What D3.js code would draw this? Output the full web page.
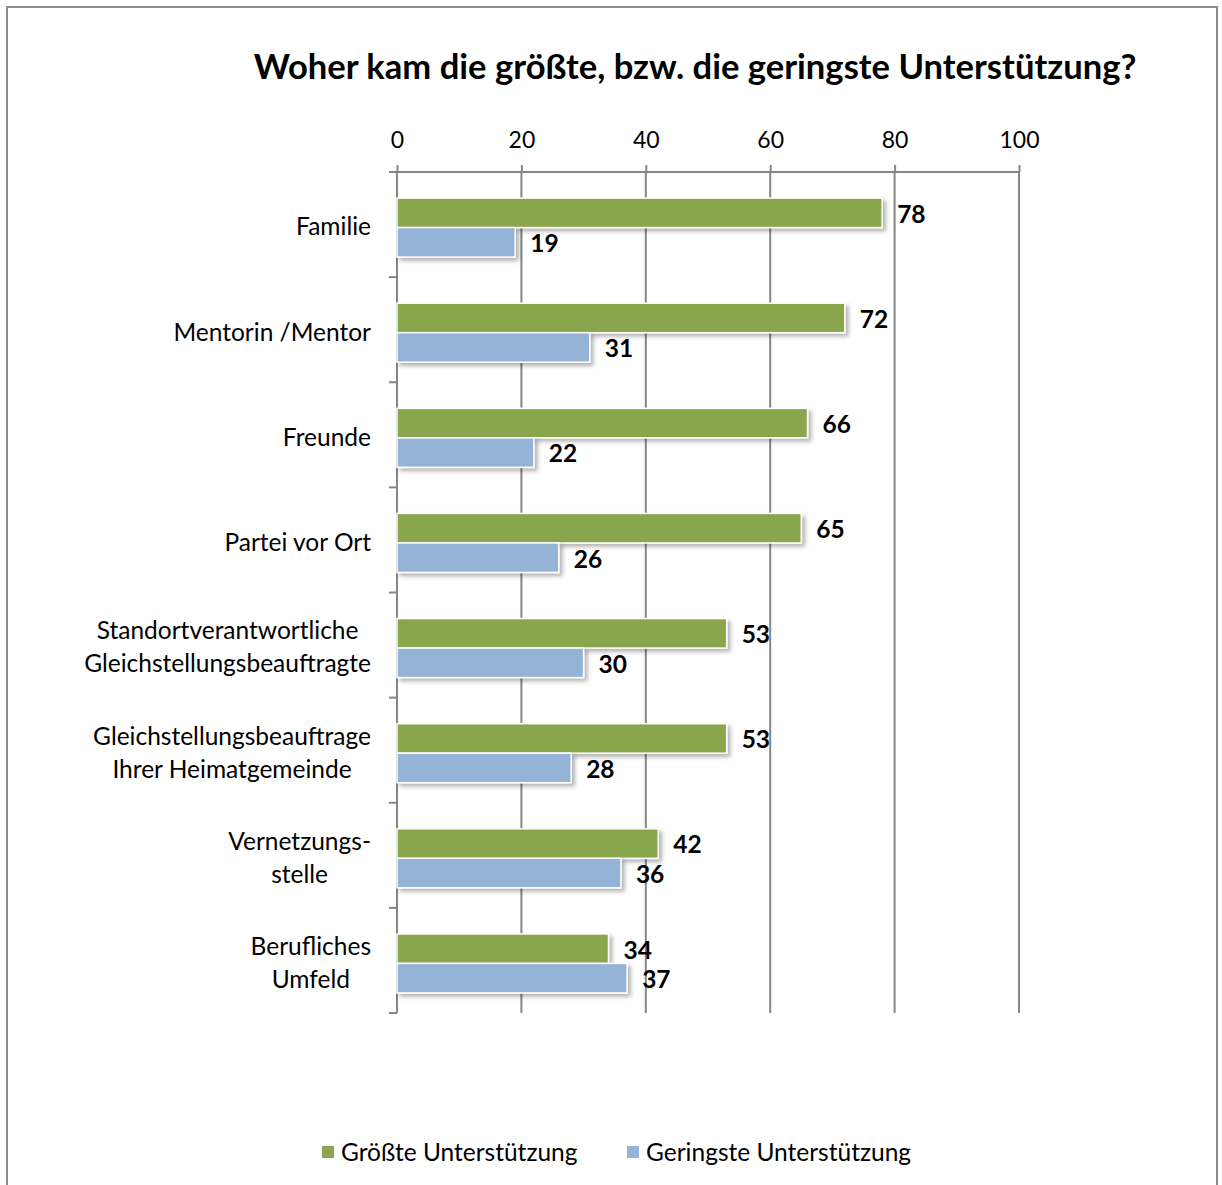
<!DOCTYPE html>
<html>
<head>
<meta charset="utf-8">
<script src="https://cdn.jsdelivr.net/npm/d3@7"></script>
<style>
  html, body { margin: 0; padding: 0; background: #fff; }
  svg { display: block; font-family: Lato, "Open Sans", sans-serif; }
</style>
</head>
<body>
<svg id="chart" width="1222" height="1185"></svg>
<script>
// Sources of support, share of respondents (%)
const categories = [
  ["Familie"],
  ["Mentorin /Mentor"],
  ["Freunde"],
  ["Partei vor Ort"],
  ["Standortverantwortliche", "Gleichstellungsbeauftragte"],
  ["Gleichstellungsbeauftrage", "Ihrer Heimatgemeinde"],
  ["Vernetzungs-", "stelle"],
  ["Berufliches", "Umfeld"]
];
const groessteValues = [78, 72, 66, 65, 53, 53, 42, 34];
const geringsteValues = [19, 31, 22, 26, 30, 28, 36, 37];
const seriesNames = ["Größte Unterstützung", "Geringste Unterstützung"];
const seriesColors = ["#8aa64e", "#95b3d7"];
const tickValues = [0, 20, 40, 60, 80, 100];

const svg = d3.select("#chart");

// shadow under each bar
const defs = svg.append("defs");
const f = defs.append("filter").attr("id", "barShadow")
  .attr("x", "-5%").attr("y", "-30%").attr("width", "115%").attr("height", "180%");
f.append("feDropShadow").attr("dx", 3).attr("dy", 3).attr("stdDeviation", 2)
  .attr("flood-color", "#000").attr("flood-opacity", 0.3);

// outer frame
svg.append("rect")
  .attr("x", 7).attr("y", 7).attr("width", 1210).attr("height", 1200)
  .attr("fill", "#fff").attr("stroke", "#8c8c8c").attr("stroke-width", 2);

// title
svg.append("text")
  .attr("x", 695).attr("y", 79)
  .attr("text-anchor", "middle")
  .attr("font-size", 34.6).attr("font-weight", "bold").attr("fill", "#000")
  .text("Woher kam die größte, bzw. die geringste Unterstützung?");

const x0 = 397, x1 = 1019, yTop = 172, yBot = 1013;
const x = d3.scaleLinear().domain([0, 100]).range([x0, x1]);
const y = d3.scaleBand().domain(d3.range(categories.length)).range([yTop, yBot]);

// vertical gridlines
svg.append("g").selectAll("line").data(tickValues.slice(1)).join("line")
  .attr("x1", d => x(d)).attr("x2", d => x(d))
  .attr("y1", yTop).attr("y2", yBot)
  .attr("stroke", "#868686").attr("stroke-width", 2);

// top value axis
const topAxis = d3.axisTop(x).tickValues(tickValues).tickSize(7).tickPadding(17);
const gTop = svg.append("g").attr("transform", `translate(0,${yTop})`).call(topAxis);
gTop.select(".domain").remove();
gTop.selectAll(".tick line").attr("stroke", "#868686").attr("stroke-width", 2);
gTop.selectAll(".tick text").attr("font-size", 23).attr("fill", "#000")
  .attr("font-family", "Lato, 'Open Sans', sans-serif");
svg.append("line").attr("x1", x0 - 8).attr("x2", x1).attr("y1", yTop).attr("y2", yTop)
  .attr("stroke", "#868686").attr("stroke-width", 2);

// category axis with ticks between bands
svg.append("line").attr("x1", x0).attr("x2", x0).attr("y1", yTop).attr("y2", yBot)
  .attr("stroke", "#868686").attr("stroke-width", 2);
svg.append("g").selectAll("line").data(d3.range(categories.length + 1)).join("line")
  .attr("x1", x0 - 8).attr("x2", x0)
  .attr("y1", i => yTop + i * y.step()).attr("y2", i => yTop + i * y.step())
  .attr("stroke", "#868686").attr("stroke-width", 2);

// bars
const barH = 29.5;
const rows = categories.map((c, i) => ({ i, vals: [groessteValues[i], geringsteValues[i]] }));
const groups = svg.append("g").selectAll("g").data(rows).join("g")
  .attr("transform", d => `translate(0,${y(d.i) + y.bandwidth() / 2 + 3 - barH})`);

groups.selectAll("rect").data(d => d.vals).join("rect")
  .attr("x", x(0))
  .attr("y", (v, j) => j * barH)
  .attr("width", v => x(v) - x(0))
  .attr("height", barH)
  .attr("fill", (v, j) => seriesColors[j])
  .attr("stroke", "#fff").attr("stroke-width", 1.5)
  .attr("filter", "url(#barShadow)");

groups.selectAll("text").data(d => d.vals).join("text")
  .attr("x", v => x(v) + 15)
  .attr("y", (v, j) => j * barH + barH / 2 + 1)
  .attr("dy", "0.36em")
  .attr("font-size", 24.5).attr("font-weight", "bold").attr("fill", "#000")
  .text(v => v);

// category labels: block right-aligned, lines centered within the block
const labelRight = 371;
const lh = 33;
categories.forEach((lines, i) => {
  const cy = y(i) + y.bandwidth() / 2 + 2;
  const t = svg.append("text")
    .attr("font-size", 24.5).attr("fill", "#000").attr("text-anchor", "middle");
  const tspans = lines.map((s, k) => t.append("tspan")
    .attr("y", cy + (k - (lines.length - 1) / 2) * lh)
    .attr("dy", "0.36em")
    .text(s));
  const w = d3.max(tspans, ts => ts.node().getComputedTextLength());
  tspans.forEach(ts => ts.attr("x", labelRight - w / 2));
});

// legend
const legendItems = [
  { name: seriesNames[0], color: seriesColors[0], x: 322 },
  { name: seriesNames[1], color: seriesColors[1], x: 627 }
];
const lg = svg.append("g").selectAll("g").data(legendItems).join("g")
  .attr("transform", d => `translate(${d.x},1152)`);
lg.append("rect").attr("x", 0).attr("y", -6).attr("width", 12).attr("height", 12)
  .attr("fill", d => d.color);
lg.append("text").attr("x", 19).attr("dy", "0.36em")
  .attr("font-size", 24.5).attr("fill", "#000").text(d => d.name);
</script>
</body>
</html>
